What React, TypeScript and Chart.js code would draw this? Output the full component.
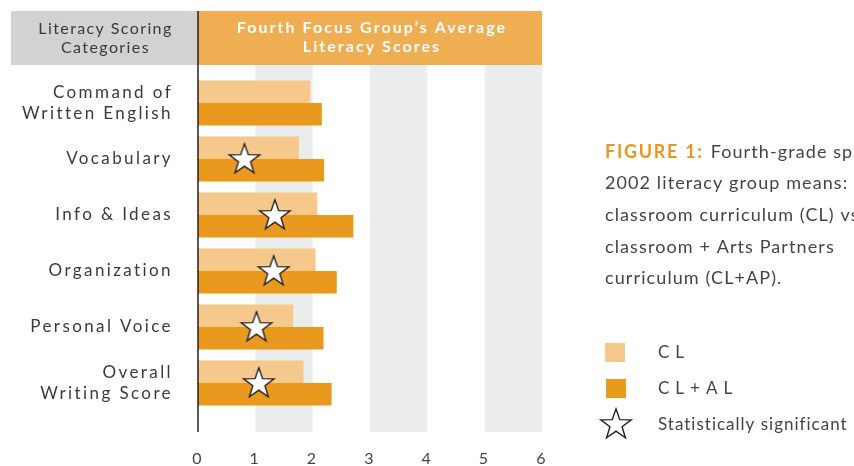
import { useEffect, useRef } from "react";
import { Chart, registerables } from "chart.js";

Chart.register(...registerables);

const categories = [
  "Command of\nWritten English",
  "Vocabulary",
  "Info & Ideas",
  "Organization",
  "Personal Voice",
  "Overall\nWriting Score",
];
const clValues = [1.96, 1.76, 2.08, 2.05, 1.66, 1.84];
const clalValues = [2.16, 2.2, 2.71, 2.42, 2.19, 2.33];
const starValues: (number | null)[] = [null, 0.81, 1.34, 1.32, 1.02, 1.06];
const xTickValues = [0, 1, 2, 3, 4, 5, 6];
const seriesLabels = ["CL", "CL+AL", "Statistically significant"];
const headerLeft = ["Literacy Scoring", "Categories"];
const headerRight = ["Fourth Focus Group\u2019s Average", "Literacy Scores"];
const captionLead = "FIGURE 1:";
const captionLines = [
  "Fourth-grade spring",
  "2002 literacy group means:",
  "classroom curriculum (CL) vs.",
  "classroom + Arts Partners",
  "curriculum (CL+AP).",
];

const FONT = "Lato, 'Noto Sans', sans-serif";
const CL_COLOR = "#F5C88B";
const CLAL_COLOR = "#E9991D";
const HEADER_ORANGE = "#EFAE52";
const HEADER_GRAY = "#D1D2D4";
const BAND = "#EBECEC";
const INK = "#231F20";
const TEXT = "#3A3A3A";

function makeStar(r: number): HTMLCanvasElement {
  const c = document.createElement("canvas");
  const s = Math.ceil(r * 2 + 4);
  c.width = s;
  c.height = s;
  const g = c.getContext("2d")!;
  g.translate(s / 2, s / 2 + r * 0.05);
  g.beginPath();
  for (let i = 0; i < 10; i++) {
    const rad = i % 2 === 0 ? r : r * 0.4;
    const a = -Math.PI / 2 + (i * Math.PI) / 5;
    g.lineTo(rad * Math.cos(a), rad * Math.sin(a));
  }
  g.closePath();
  g.fillStyle = "#ffffff";
  g.fill();
  g.lineWidth = 1.4;
  g.strokeStyle = INK;
  g.stroke();
  return c;
}

const decoPlugin = {
  id: "deco",
  beforeDraw(chart: any) {
    const { ctx, chartArea: a, scales } = chart;
    const x = scales.x;
    ctx.save();
    (ctx as any).letterSpacing = "0px";
    // header boxes
    const hTop = a.top - 64;
    const hH = 54;
    ctx.fillStyle = HEADER_GRAY;
    ctx.fillRect(11, hTop, a.left - 11, hH);
    ctx.fillStyle = HEADER_ORANGE;
    ctx.fillRect(a.left, hTop, a.right - a.left, hH);
    // alternating bands
    ctx.fillStyle = BAND;
    for (let i = 1; i < xTickValues.length - 1; i += 2) {
      const x0 = x.getPixelForValue(xTickValues[i]);
      const x1 = x.getPixelForValue(xTickValues[i + 1]);
      ctx.fillRect(x0, a.top - 10, x1 - x0, a.bottom - a.top + 31);
    }
    // header text
    ctx.textBaseline = "middle";
    ctx.textAlign = "center";
    ctx.fillStyle = TEXT;
    ctx.font = `16px ${FONT}`;
    (ctx as any).letterSpacing = "1.4px";
    headerLeft.forEach((t, i) => ctx.fillText(t, (11 + a.left) / 2 + 1, hTop + 18 + i * 19));
    ctx.fillStyle = "#ffffff";
    ctx.font = `bold 16px ${FONT}`;
    (ctx as any).letterSpacing = "2.05px";
    headerRight.forEach((t, i) => ctx.fillText(t, (a.left + a.right) / 2 + 2, hTop + 17 + i * 19));
    ctx.restore();
    (ctx as any).letterSpacing = "2.4px";
  },
  afterDatasetsDraw(chart: any) {
    const { ctx, chartArea: a } = chart;
    ctx.save();
    ctx.strokeStyle = INK;
    ctx.lineWidth = 1.5;
    ctx.beginPath();
    ctx.moveTo(a.left, a.top - 64);
    ctx.lineTo(a.left, a.bottom + 21);
    ctx.stroke();
    ctx.restore();
  },
  afterDraw(chart: any) {
    const { ctx, chartArea: a } = chart;
    ctx.save();
    ctx.textBaseline = "middle";
    ctx.textAlign = "left";
    const cx = a.right + 63;
    // caption
    (ctx as any).letterSpacing = "1.7px";
    ctx.font = `bold 18px ${FONT}`;
    ctx.fillStyle = "#E8961E";
    ctx.fillText(captionLead, cx, 152);
    const leadW = ctx.measureText(captionLead).width + 7;
    (ctx as any).letterSpacing = "1.1px";
    ctx.font = `18px ${FONT}`;
    ctx.fillStyle = "#444444";
    captionLines.forEach((t, i) => {
      ctx.fillText(t, i === 0 ? cx + leadW : cx, 152 + i * 31.6);
    });
    // legend
    const ds = chart.data.datasets;
    ctx.fillStyle = ds[0].backgroundColor;
    ctx.fillRect(cx, 343, 20, 19);
    ctx.fillStyle = ds[1].backgroundColor;
    ctx.fillRect(cx + 1, 379, 20, 19);
    const star = ds[2].pointStyle as HTMLCanvasElement;
    ctx.drawImage(star, cx + 11 - star.width / 2, 424 - star.height / 2);
    ctx.fillStyle = "#444444";
    ctx.font = `17px ${FONT}`;
    (ctx as any).letterSpacing = "6px";
    ctx.fillText(ds[0].label, cx + 53, 353);
    ctx.fillText(ds[1].label, cx + 53, 389);
    (ctx as any).letterSpacing = "1px";
    ctx.fillText(ds[2].label, cx + 53, 425);
    ctx.restore();
  },
};

export default function App() {
  const ref = useRef<HTMLCanvasElement | null>(null);
  useEffect(() => {
    if (!ref.current) return;
    const star = makeStar(16);
    const chart = new Chart(ref.current, {
      type: "bar",
      data: {
        labels: categories,
        datasets: [
          {
            label: seriesLabels[0],
            data: clValues,
            backgroundColor: CL_COLOR,
            barPercentage: 1,
            categoryPercentage: 0.8,
            order: 1,
          } as any,
          {
            label: seriesLabels[1],
            data: clalValues,
            backgroundColor: CLAL_COLOR,
            barPercentage: 1,
            categoryPercentage: 0.8,
            order: 1,
          } as any,
          {
            type: "scatter",
            label: seriesLabels[2],
            data: categories
              .map((c, i) => ({ x: starValues[i], y: c }))
              .filter((p) => p.x !== null),
            pointStyle: star,
            pointRadius: 16,
            order: 0,
          } as any,
        ],
      },
      options: {
        indexAxis: "y",
        responsive: false,
        animation: false,
        layout: { padding: { top: 75, right: 312, bottom: 0, left: 0 } },
        plugins: {
          legend: { display: false },
          tooltip: { enabled: false },
        },
        scales: {
          x: {
            type: "linear",
            min: 0,
            max: 6,
            afterBuildTicks: (scale: any) => {
              scale.ticks = xTickValues.map((v) => ({ value: v }));
            },
            afterFit: (scale: any) => {
              scale.height = 55;
            },
            grid: { display: false, drawTicks: false },
            border: { display: false },
            ticks: {
              padding: 38,
              color: "#444444",
              font: { family: FONT, size: 16 },
            },
          },
          y: {
            type: "category",
            afterFit: (scale: any) => {
              scale.width = 198;
            },
            grid: { display: false, drawTicks: false },
            border: { display: false },
            ticks: {
              padding: 25,
              color: TEXT,
              font: { family: FONT, size: 17 },
              callback: (_v: any, i: number) => categories[i].split("\n"),
            },
          },
        },
      },
      plugins: [decoPlugin],
    });
    return () => chart.destroy();
  }, []);
  return (
    <div style={{ position: "fixed", left: 0, top: 0, width: 854, height: 466, overflow: "hidden", background: "#fff" }}>
      <canvas ref={ref} width={854} height={466} style={{ display: "block" }} />
    </div>
  );
}
